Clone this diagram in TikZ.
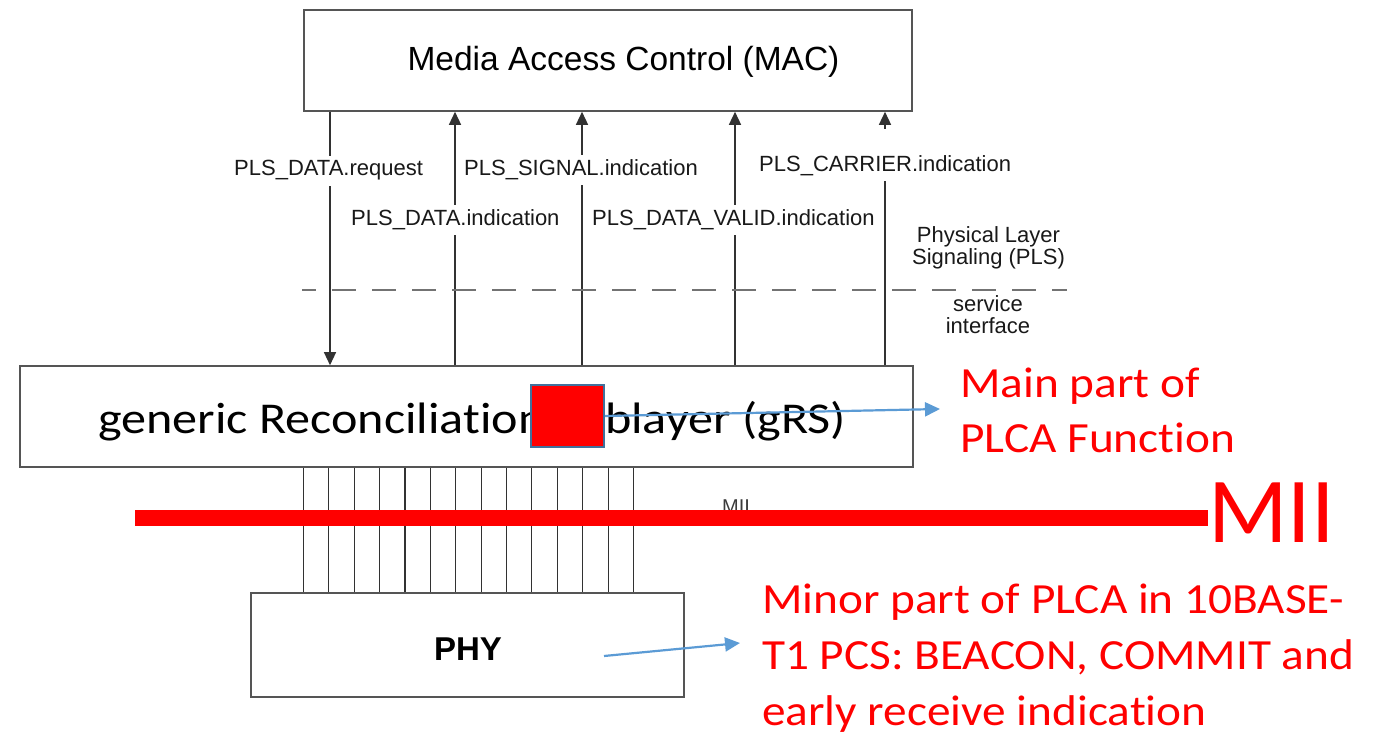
\documentclass[tikz,border=0pt]{standalone}
\usepackage{fontspec}
\setmainfont{Liberation Sans}
\newfontfamily\calib[Ligatures=NoCommon]{Carlito}
\usetikzlibrary{arrows.meta,calc}
\definecolor{plred}{RGB}{255,0,0}
\definecolor{plblue}{RGB}{91,155,213}
\definecolor{sqborder}{RGB}{65,113,156}
\definecolor{linegray}{RGB}{50,50,50}
\definecolor{boxgray}{RGB}{85,85,85}
\definecolor{dashgray}{RGB}{115,115,115}
\definecolor{txtgray}{RGB}{25,25,25}
\begin{document}
\begin{tikzpicture}[x=1pt,y=-1pt,
  box/.style={draw=boxgray, line width=1.6pt, fill=white, inner sep=0},
  sig/.style={draw=linegray, line width=1.4pt},
  tip/.style={-{Triangle[length=13pt,width=12pt]}},
  wire/.style={draw=linegray, line width=1.1pt},
  lbl/.style={font=\fontsize{22}{26}\selectfont, text=txtgray, fill=white, anchor=base west, inner xsep=1pt, inner ysep=5pt},
  note/.style={font=\fontsize{22}{22.5}\selectfont, text=txtgray, align=center, inner sep=0},
  redtxt/.style={text=plred, anchor=base west, inner sep=0, font=\calib\fontsize{43}{55}\selectfont},
  callout/.style={draw=plblue, line width=2.2pt, -{Triangle[length=15pt,width=14pt]}},
]
\useasboundingbox (0,0) rectangle (1378,735);

% boxes
\node[box, minimum width=608pt, minimum height=101pt] (mac) at (608,60.5) {};
\node[inner sep=0, anchor=base, font=\fontsize{33.5}{40}\selectfont, text=black] (mactext) at (623.5,71) {Media Access Control (MAC)};

\node[box, minimum width=893pt, minimum height=101pt] (grs) at (466.5,416.5) {};
\node[inner sep=0, anchor=base west, font=\calib\fontsize{44}{50}\selectfont, text=black] (grstext) at (98,433) {\scalebox{1.14}[1]{generic Reconciliation Sublayer (gRS)}};
\node[draw=sqborder, fill=plred, line width=1.8pt, minimum width=73pt, minimum height=62pt, inner sep=0] (plca) at (567.5,416) {};

\node[box, minimum width=433pt, minimum height=104pt] (phy) at (467.5,645) {};
\node[font=\bfseries\fontsize{33}{40}\selectfont, anchor=base, inner sep=0, text=black] (phytext) at (468,660) {PHY};

% service primitives
\coordinate (a1) at (330,0);
\coordinate (a2) at (455,0);
\coordinate (a3) at (582,0);
\coordinate (a4) at (735,0);
\coordinate (a5) at (885,0);
\draw[sig,tip] (a1 |- mac.south) -- (a1 |- grs.north);
\draw[sig,tip] (a2 |- grs.north) -- (a2 |- mac.south);
\draw[sig,tip] (a3 |- grs.north) -- (a3 |- mac.south);
\draw[sig,tip] (a4 |- grs.north) -- (a4 |- mac.south);
\draw[sig,tip] (a5 |- grs.north) -- (a5 |- mac.south);

% dashed service interface line
\coordinate (dl) at (302,290);
\coordinate (dr) at (1067,290);
\draw[dashgray, line width=2pt, dash pattern=on 24pt off 16pt, dash phase=10pt] (dl) -- (dr);

% labels
\node[lbl] (req) at (233,176) {PLS\_DATA.request};
\node[lbl] (sigi) at (463,176) {PLS\_SIGNAL.indication};
\node[lbl, text height=38pt] (car) at (758,172) {PLS\_CARRIER.indication};
\node[lbl] (dind) at (350,226) {PLS\_DATA.indication};
\node[lbl] (valid) at (591,226) {PLS\_DATA\_VALID.indication};
\node[note] (pls) at (988.5,248) {Physical Layer\\Signaling (PLS)};
\node[note] (svc) at (988,314.5) {service\\interface};

% MII wires
\foreach \i in {0,...,13} {
  \coordinate (w\i) at ({303.5+25.38*\i},0);
  \draw[wire] (w\i |- grs.south) -- (w\i |- phy.north);
}
\node[font=\fontsize{20}{22}\selectfont, text=txtgray!85, anchor=base west, inner sep=0] (miismall) at (722,513) {MII};

% red MII bar
\node[text=plred, font=\calib\fontsize{93}{100}\selectfont, anchor=base west, inner sep=0] (mii) at (1208,542) {MII};
\coordinate (mL) at (135,518);
\draw[plred, line width=16pt] (mL) -- (mii.west |- mL);

% callouts
\node[redtxt] (main1) at (960,397) {\scalebox{1.1}[1]{Main part of}};
\node[redtxt] (main2) at (960,452) {\scalebox{1.1}[1]{PLCA Function}};
\coordinate (t1) at (940,409);
\draw[callout] (plca.east) -- (t1);

\node[redtxt] (minor1) at (762,613) {\scalebox{1.1}[1]{Minor part of PLCA in 10BASE-}};
\node[redtxt] (minor2) at (762,669) {\scalebox{1.1}[1]{T1 PCS: BEACON, COMMIT and}};
\node[redtxt] (minor3) at (762,725) {\scalebox{1.1}[1]{early receive indication}};
\coordinate (p1) at (604,656);
\coordinate (t2) at (740,643);
\draw[callout] (p1) -- (t2);
\end{tikzpicture}
\end{document}
